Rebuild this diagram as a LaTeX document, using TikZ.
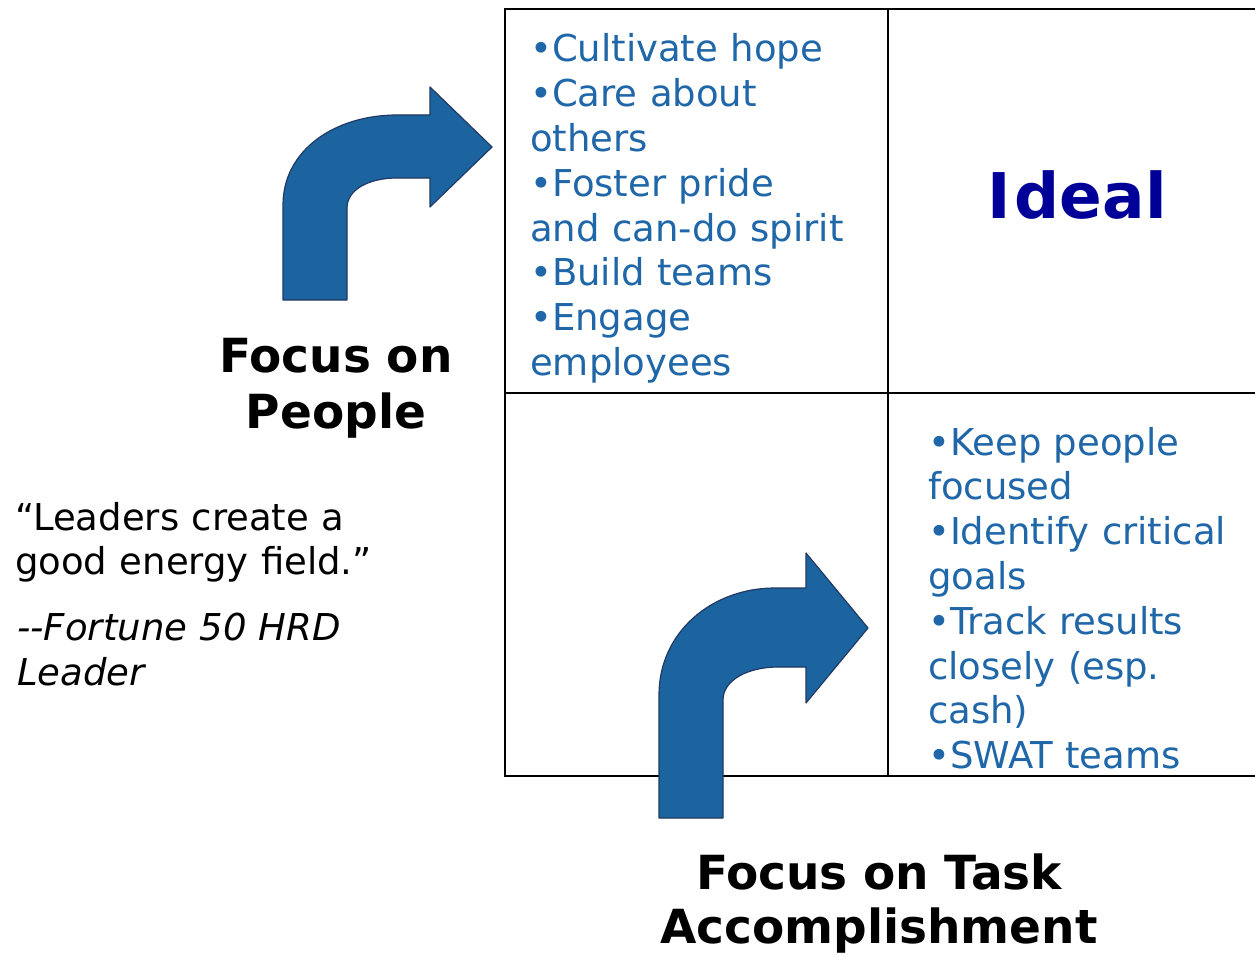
\documentclass[tikz,border=0pt]{standalone}
\usepackage{fontspec}
\setmainfont{DejaVu Sans}
\begin{document}
\begin{tikzpicture}[x=1pt,y=-1pt,
  gridline/.style={line width=1.6pt,black},
  turnarrow/.style={fill=arrowfill,draw=arrowedge,line width=1.2pt,line join=round},
  listtext/.style={anchor=base west,inner sep=0pt,text width=380pt,align=left,
    text=listblue,font=\fontsize{37}{44.8}\selectfont},
  quotetext/.style={anchor=base west,inner sep=0pt,text width=400pt,align=left,
    font=\fontsize{37}{44.5}\selectfont},
  axislabel/.style={anchor=base,inner sep=0pt,text width=520pt,align=center,
    font=\fontsize{47}{56.5}\selectfont\bfseries}]
\definecolor{arrowfill}{RGB}{27,100,160}
\definecolor{arrowedge}{RGB}{32,58,100}
\definecolor{listblue}{RGB}{31,103,168}
\definecolor{idealblue}{RGB}{0,0,153}
\useasboundingbox (0,0) rectangle (1255,955);
\fill[white] (0,0) rectangle (1255,955);

% quadrant grid
\coordinate (tl) at (505,9);
\coordinate (tm) at (888,9);
\coordinate (tr) at (1255,9);
\coordinate (ml) at (505,393);
\coordinate (mr) at (1255,393);
\coordinate (bl) at (505,776);
\coordinate (bm) at (888,776);
\coordinate (br) at (1255,776);
\draw[gridline] (tr) -- (tl) -- (bl) -- (br);
\draw[gridline] (tm) -- (bm);
\draw[gridline] (ml) -- (mr);

% turning arrow beside the people axis
\path[turnarrow] (283,300) -- (283,205)
  .. controls (283,150) and (335,115) .. (397,115)
  -- (430,115) -- (430,87) -- (492,147) -- (430,207) -- (430,178) -- (397,178)
  .. controls (368,178) and (347,190) .. (347,208)
  -- (347,300) -- cycle;

% turning arrow beside the task axis
\path[turnarrow] (659,818) -- (659,695)
  .. controls (659,632) and (712,588) .. (775,588)
  -- (806,588) -- (806,553) -- (868,628) -- (806,703) -- (806,667) -- (778,667)
  .. controls (748,667) and (723,680) .. (723,700)
  -- (723,818) -- cycle;

% quadrant contents
\node[listtext] (peoplelist) at (530,62)
  {\textbullet Cultivate hope\\
   \textbullet Care about\\
   others\\
   \textbullet Foster pride\\
   and can-do spirit\\
   \textbullet Build teams\\
   \textbullet Engage\\
   employees};

\node[anchor=base,inner sep=0pt,text=idealblue,font=\fontsize{63}{70}\selectfont\bfseries]
  (ideal) at (1077,218) {I\kern4pt deal};

\node[listtext] (tasklist) at (928,455)
  {\textbullet Keep people\\
   focused\\
   \textbullet Identify critical\\
   goals\\
   \textbullet Track results\\
   closely (esp.\\
   cash)\\
   \textbullet SWAT teams};

% axis labels
\node[axislabel] (peopleaxis) at (336,372) {Focus on\\People};
\node[axislabel,font=\fontsize{47}{54}\selectfont\bfseries] (taskaxis) at (879,889)
  {Focus on Task\\Accomplishment};

% quotation
\node[quotetext] (quote) at (15,530)
  {“Leaders create a\\good energy field.”};
\node[quotetext,font=\fontsize{37}{45}\selectfont\itshape] (source) at (17,640)
  {-{}-Fortune 50 HRD\\Leader};
\end{tikzpicture}
\end{document}
